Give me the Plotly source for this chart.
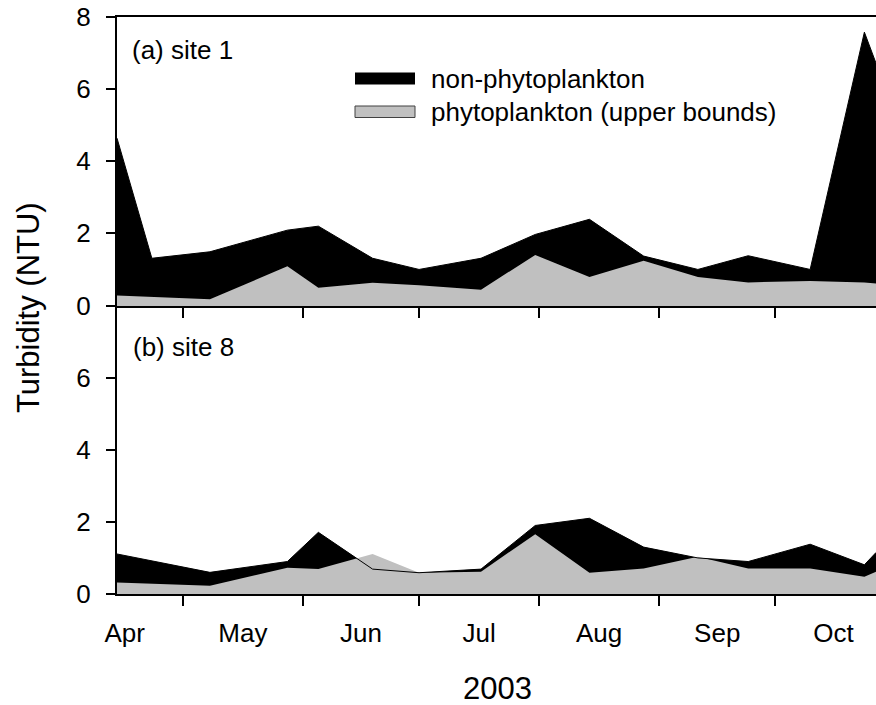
import plotly.graph_objects as go

# ---- data -------------------------------------------------------------
months_ticks = ["Apr", "May", "Jun", "Jul", "Aug", "Sep", "Oct"]

site1_dates = ["2003-04-14", "2003-04-23", "2003-05-08", "2003-05-28", "2003-06-05",
               "2003-06-19", "2003-07-01", "2003-07-17", "2003-07-31", "2003-08-14",
               "2003-08-28", "2003-09-11", "2003-09-24", "2003-10-10", "2003-10-24",
               "2003-10-27"]
site1_total = [4.64, 1.31, 1.49, 2.09, 2.20, 1.31, 1.00, 1.31, 1.97, 2.39,
               1.37, 1.00, 1.38, 1.00, 7.58, 6.72]
site1_phyto = [0.28, 0.24, 0.17, 1.09, 0.49, 0.63, 0.56, 0.44, 1.40, 0.79,
               1.24, 0.79, 0.64, 0.68, 0.64, 0.61]

site8_dates = ["2003-04-14", "2003-05-08", "2003-05-28", "2003-06-05", "2003-06-19",
               "2003-07-01", "2003-07-17", "2003-07-31", "2003-08-14", "2003-08-28",
               "2003-09-11", "2003-09-24", "2003-10-10", "2003-10-24", "2003-10-27"]
site8_total = [1.11, 0.60, 0.90, 1.71, 0.69, 0.59, 0.69, 1.90, 2.10, 1.30,
               1.00, 0.90, 1.38, 0.81, 1.15]
site8_phyto = [0.32, 0.23, 0.73, 0.69, 1.11, 0.59, 0.62, 1.66, 0.59, 0.71,
               1.03, 0.71, 0.71, 0.48, 0.62]

x_range = ["2003-04-14", "2003-10-27"]

# ---- style ------------------------------------------------------------
FONT = "Liberation Sans, Arial, Helvetica, sans-serif"
GRAY = "#c0c0c0"
W, H = 876, 705
ML, MR, MT, MB = 117, 0, 17, 111
PW, PH = W - ML - MR, H - MT - MB


def fx(px):
    return (px - ML) / PW


def fy(py):
    return (H - MB - py) / PH


fig = go.Figure()


def add_panel(dates, total, phyto, xa, ya):
    # total turbidity as a black area, phytoplankton part laid over it in gray,
    # then the total outline on top
    fig.add_trace(go.Scatter(x=dates, y=total, mode="lines", fill="tozeroy",
                             fillcolor="black", line=dict(width=0, color="black"),
                             xaxis=xa, yaxis=ya, showlegend=False, hoverinfo="skip"))
    fig.add_trace(go.Scatter(x=dates, y=phyto, mode="lines", fill="tozeroy",
                             fillcolor=GRAY, line=dict(width=0, color=GRAY),
                             xaxis=xa, yaxis=ya, showlegend=False, hoverinfo="skip"))
    fig.add_trace(go.Scatter(x=dates, y=total, mode="lines",
                             line=dict(width=1, color="black"),
                             xaxis=xa, yaxis=ya, showlegend=False, hoverinfo="skip"))


add_panel(site1_dates, site1_total, site1_phyto, "x2", "y2")
add_panel(site8_dates, site8_total, site8_phyto, "x", "y")

axis_common = dict(showgrid=False, zeroline=False, showline=True, linecolor="black",
                   linewidth=2, ticks="outside", tickwidth=2, tickcolor="black",
                   tickfont=dict(family=FONT, size=26, color="black"))

fig.update_layout(
    width=W, height=H,
    margin=dict(l=ML, r=MR, t=MT, b=MB, pad=0),
    paper_bgcolor="white", plot_bgcolor="white",
    font=dict(family=FONT, size=26, color="black"),
    xaxis=dict(**axis_common, type="date", range=x_range, anchor="y",
               dtick="M1", tick0="2003-04-01", tickformat="%b",
               ticklabelmode="period", ticklen=10, ticklabelstandoff=5),
    xaxis2=dict(**axis_common, type="date", range=x_range, anchor="y2",
                matches="x", dtick="M1", tick0="2003-04-01",
                showticklabels=False, ticklen=10, mirror=True),
    yaxis=dict(**axis_common, domain=[0, 0.5], range=[0, 8], anchor="x",
               tickvals=[0, 2, 4, 6], ticklen=9, ticklabelstandoff=10),
    yaxis2=dict(**axis_common, domain=[0.5, 1], range=[0, 8], anchor="x2",
                tickvals=[0, 2, 4, 6, 8], ticklen=9, ticklabelstandoff=10),
)

annotations = [
    dict(text="(a) site 1", x=fx(130), y=fy(50), xanchor="left", yanchor="middle"),
    dict(text="(b) site 8", x=fx(131), y=fy(347), xanchor="left", yanchor="middle"),
    dict(text="non-phytoplankton", x=fx(429), y=fy(79), xanchor="left", yanchor="middle"),
    dict(text="phytoplankton (upper bounds)", x=fx(429), y=fy(112),
         xanchor="left", yanchor="middle"),
    dict(text="2003", x=fx(497), y=fy(688), xanchor="center", yanchor="middle",
         font=dict(size=31)),
    dict(text="Turbidity (NTU)", x=fx(28), y=fy(308), xanchor="center",
         yanchor="middle", textangle=-90, font=dict(size=31)),
]
for a in annotations:
    a.update(xref="paper", yref="paper", showarrow=False)
    a.setdefault("font", dict(size=26))
    a["font"].update(family=FONT, color="black")
fig.update_layout(annotations=annotations)

# legend swatches
fig.add_shape(type="rect", xref="paper", yref="paper",
              x0=fx(355), x1=fx(415), y0=fy(84.5), y1=fy(72.5),
              fillcolor="black", line=dict(width=0))
fig.add_shape(type="rect", xref="paper", yref="paper",
              x0=fx(355), x1=fx(415), y0=fy(117.5), y1=fy(106),
              fillcolor=GRAY, line=dict(width=1, color="#404040"))

fig.write_html("out.html")
